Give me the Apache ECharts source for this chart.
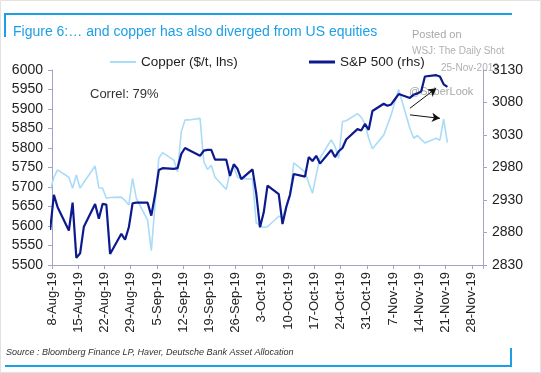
<!DOCTYPE html>
<html><head><meta charset="utf-8">
<script src="https://cdn.jsdelivr.net/npm/echarts@6/dist/echarts.min.js"></script>
<style>html,body{margin:0;padding:0;background:#fff}#c{width:541px;height:373px}</style>
</head><body><div id="c"></div>
<script>
const dates = ['2019-08-07','2019-08-08','2019-08-09','2019-08-12','2019-08-13','2019-08-14','2019-08-15','2019-08-16',
'2019-08-19','2019-08-20','2019-08-21','2019-08-22','2019-08-23','2019-08-26','2019-08-27','2019-08-28','2019-08-29','2019-08-30',
'2019-09-02','2019-09-03','2019-09-04','2019-09-05','2019-09-06','2019-09-09','2019-09-10','2019-09-11','2019-09-12','2019-09-13',
'2019-09-16','2019-09-17','2019-09-18','2019-09-19','2019-09-20','2019-09-23','2019-09-24','2019-09-25','2019-09-26','2019-09-27',
'2019-09-30','2019-10-01','2019-10-02','2019-10-03','2019-10-04','2019-10-07','2019-10-08','2019-10-09','2019-10-10','2019-10-11',
'2019-10-14','2019-10-15','2019-10-16','2019-10-17','2019-10-18','2019-10-21','2019-10-22','2019-10-23','2019-10-24','2019-10-25',
'2019-10-28','2019-10-29','2019-10-30','2019-10-31','2019-11-01','2019-11-04','2019-11-05','2019-11-06','2019-11-07','2019-11-08',
'2019-11-11','2019-11-12','2019-11-13','2019-11-14','2019-11-15','2019-11-18','2019-11-19','2019-11-20','2019-11-21'];

const copper = [5690,5725,5744,5725,5697,5731,5697,5712,
5754,5698,5697,5671,5673,5674,5665,5654,5722,5671,
5615,5537,5655,5774,5788,5769,5739,5842,5872,5872,
5876,5765,5745,5756,5725,5694,5739,5752,5725,5722,
5720,5608,5602,5596,5598,5625,5622,5650,5677,5762,
5739,5710,5684,5731,5774,5821,5805,5773,5868,5870,
5888,5879,5862,5825,5798,5833,5859,5885,5919,5950,
5850,5825,5832,5822,5813,5825,5820,5874,5814];

const spx = [2884,2938,2919,2883,2926,2841,2848,2889,
2924,2901,2924,2923,2847,2878,2869,2888,2925,2926,
2926,2906,2938,2976,2979,2978,2979,3001,3010,3007,
2998,3006,3007,3007,2992,2992,2967,2985,2978,2962,
2977,2940,2888,2911,2952,2939,2893,2919,2938,2970,
2966,2996,2990,2998,2986,3007,2996,3005,3010,3023,
3039,3037,3047,3038,3067,3078,3075,3077,3085,3093,
3087,3092,3094,3097,3120,3122,3120,3108,3104];

const tickLabels = ['8-Aug-19','15-Aug-19','22-Aug-19','29-Aug-19','5-Sep-19','12-Sep-19','19-Sep-19','26-Sep-19',
'3-Oct-19','10-Oct-19','17-Oct-19','24-Oct-19','31-Oct-19','7-Nov-19','14-Nov-19','21-Nov-19','28-Nov-19'];

// arrow annotations in data units: [startDate, startCopper, endDate, endCopper]
const arrows = [['2019-11-11',5902,'2019-11-18',5953],['2019-11-11',5885,'2019-11-19',5876]];

const base = Date.UTC(2019,7,8);
function dayPos(s){const p=s.split('-');return (Date.UTC(+p[0],+p[1]-1,+p[2])-base)/86400000+0.5;}

const copperData = dates.map((d,i)=>[dayPos(d),copper[i]]);
const spxData = dates.map((d,i)=>[dayPos(d),spx[i]]);

const FONT = 'Liberation Sans, Arial, sans-serif';
const axisCol = '#a3a3c8';
const blue = '#1c9fe6';
const cCol = '#a9dcf6', sCol = '#0c1a8e';

const chart = echarts.init(document.getElementById('c'), null, {renderer:'canvas'});
chart.setOption({
  animation:false,
  backgroundColor:'#fff',
  title:{text:'Figure 6:\u2026 and copper has also diverged from US equities',left:8,top:20,
    textStyle:{fontFamily:FONT,fontSize:14,fontWeight:'normal',color:blue}},
  legend:[
    {data:[{name:'Copper ($/t, lhs)',icon:'rect'}],left:105,top:50,itemWidth:26,itemHeight:2,itemGap:3,
     textStyle:{fontFamily:FONT,fontSize:13.5,color:'#222'}},
    {data:[{name:'S&P 500 (rhs)',icon:'rect'}],left:304,top:50,itemWidth:26,itemHeight:3,itemGap:3,
     textStyle:{fontFamily:FONT,fontSize:13.5,color:'#222'}}
  ],
  grid:{left:52,right:58,top:70,bottom:108,containLabel:false},
  xAxis:{type:'value',min:0,max:115,interval:7,
    axisLine:{lineStyle:{color:axisCol,width:1}},
    axisTick:{show:true,length:4,lineStyle:{color:axisCol}},
    splitLine:{show:false},
    axisLabel:{rotate:90,margin:7,fontFamily:FONT,fontSize:13,color:'#222',
      formatter:function(v){return (v%7===0 && tickLabels[v/7])?tickLabels[v/7]:'';}}},
  yAxis:[
    {type:'value',min:5500,max:6000,interval:50,position:'left',
     axisLine:{show:true,lineStyle:{color:axisCol}},
     axisTick:{show:true,length:4,lineStyle:{color:axisCol}},
     splitLine:{show:false},
     axisLabel:{margin:9,fontFamily:FONT,fontSize:14,color:'#222',formatter:v=>String(v)}},
    {type:'value',min:2830,max:3130,interval:50,position:'right',
     axisLine:{show:true,lineStyle:{color:axisCol}},
     axisTick:{show:true,length:4,lineStyle:{color:axisCol}},
     splitLine:{show:false},
     axisLabel:{margin:9,fontFamily:FONT,fontSize:14,color:'#222',formatter:v=>String(v)}}
  ],
  series:[
    {name:'Copper ($/t, lhs)',type:'line',yAxisIndex:0,data:copperData,symbol:'none',
     lineStyle:{color:cCol,width:1.6},itemStyle:{color:cCol},
     markLine:{silent:true,symbol:['none','arrow'],symbolSize:[7,8],label:{show:false},
       lineStyle:{color:'#111',width:1,type:'solid'},
       data:arrows.map(a=>[{coord:[dayPos(a[0]),a[1]]},{coord:[dayPos(a[2]),a[3]]}])}},
    {name:'S&P 500 (rhs)',type:'line',yAxisIndex:1,data:spxData,symbol:'none',
     lineStyle:{color:sCol,width:2.2},itemStyle:{color:sCol}}
  ],
  graphic:[
    {type:'rect',shape:{x:0.5,y:0.5,width:540,height:372},style:{fill:'none',stroke:'#e2e2e2',lineWidth:1},silent:true},
    {type:'line',shape:{x1:5,y1:14,x2:512,y2:14},style:{stroke:blue,lineWidth:2}},
    {type:'line',shape:{x1:5,y1:13,x2:5,y2:37},style:{stroke:blue,lineWidth:2}},
    {type:'line',shape:{x1:5,y1:366,x2:512,y2:366},style:{stroke:blue,lineWidth:2}},
    {type:'line',shape:{x1:511,y1:348,x2:511,y2:367},style:{stroke:blue,lineWidth:2}},
    {type:'text',left:6,top:348,style:{text:'Source : Bloomberg Finance LP, Haver, Deutsche Bank Asset Allocation',
      font:'italic 9px '+FONT,fill:'#333'}},
    {type:'text',left:90,top:88,style:{text:'Correl: 79%',font:'13px '+FONT,fill:'#333'}},
    {type:'text',left:412,top:29,style:{text:'Posted on',font:'11px '+FONT,fill:'#a8a8a8'}},
    {type:'text',left:412,top:46,style:{text:'WSJ: The Daily Shot',font:'10px '+FONT,fill:'#b0b0b0'}},
    {type:'text',left:441,top:63,style:{text:'25-Nov-2019',font:'10px '+FONT,fill:'#b0b0b0'}},
    {type:'text',left:409,top:86,style:{text:'@SoberLook',font:'11px '+FONT,fill:'#a8a8a8'}}
  ]
});
</script></body></html>
